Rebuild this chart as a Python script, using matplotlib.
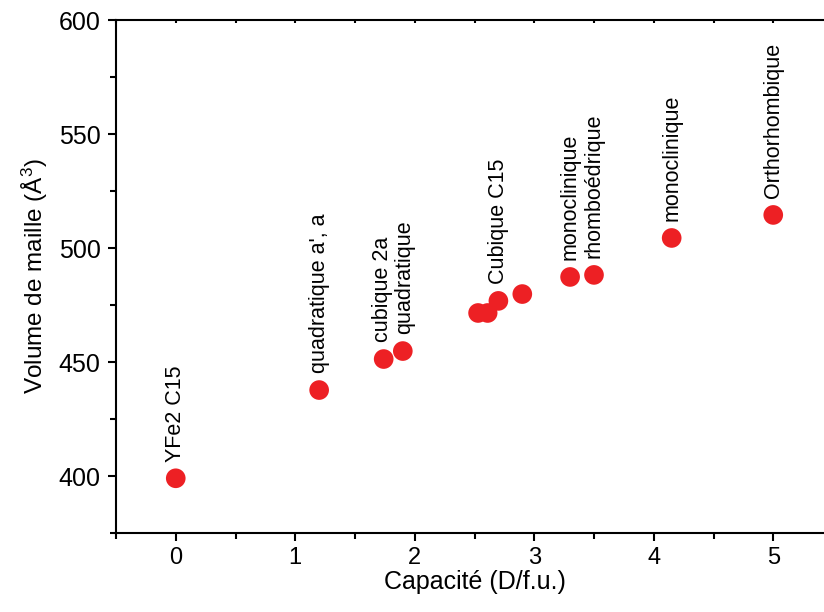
import matplotlib
matplotlib.use("Agg")
import matplotlib.pyplot as plt
from matplotlib.ticker import MultipleLocator

plt.rcParams['font.family'] = ['Liberation Sans', 'DejaVu Sans']
plt.rcParams['mathtext.fontset'] = 'custom'
plt.rcParams['mathtext.rm'] = 'Liberation Sans'
plt.rcParams['mathtext.it'] = 'Liberation Sans'

# Capacité (D/f.u.) et volume de maille (Å^3)
capacite = [0.0, 1.20, 1.74, 1.90, 2.53, 2.61, 2.70, 2.90, 3.30, 3.50, 4.15, 5.0]
volume = [399.0, 437.7, 451.3, 454.8, 471.5, 471.5, 476.8, 479.8, 487.3, 488.2, 504.4, 514.5]
etiquettes = ["YFe2 C15", "quadratique a', a", "cubique 2a", "quadratique", None, None,
              "Cubique C15", None, "monoclinique", "rhomboédrique", "monoclinique", "Orthorhombique"]

fig = plt.figure(figsize=(8.24, 6.12), dpi=100)
ax = fig.add_axes([116 / 824, 79 / 612, (833 - 116) / 824, (533 - 20) / 612])

ax.scatter(capacite, volume, s=200, color='#ED2024', edgecolors='none', zorder=3, clip_on=False)

# léger décalage horizontal pour les étiquettes serrées
decalage = {2: -1.0, 3: 1.5}
for i, (x, y, txt) in enumerate(zip(capacite, volume, etiquettes)):
    if txt:
        ax.annotate(txt, (x, y), xytext=(decalage.get(i, 0), 12), textcoords='offset points',
                    rotation=90, ha='center', va='bottom', fontsize=15.5)

ax.set_xlim(-0.5, 5.5)
ax.set_ylim(375, 600)
ax.xaxis.set_major_locator(MultipleLocator(1))
ax.xaxis.set_minor_locator(MultipleLocator(0.5))
ax.yaxis.set_major_locator(MultipleLocator(50))
ax.yaxis.set_minor_locator(MultipleLocator(25))

for s in ['left', 'bottom', 'top']:
    ax.spines[s].set_linewidth(1.5)
ax.spines['right'].set_visible(False)

ax.tick_params(which='major', direction='out', length=6, width=1.5)
ax.tick_params(which='minor', direction='out', length=4, width=1.5)
ax.tick_params(axis='x', labelsize=17, pad=4)
ax.tick_params(axis='y', labelsize=18, pad=5)
ax.tick_params(axis='x', which='both', top=True, labeltop=False)
# petites graduations vers l'intérieur sur l'axe du haut
for t in ax.xaxis.get_major_ticks() + ax.xaxis.get_minor_ticks():
    t.tick2line.set_marker(3)
    t.tick2line.set_markersize(2)

ax.set_xlabel('Capacité (D/f.u.)', fontsize=18, labelpad=1)
ax.set_ylabel('Volume de maille (Å$^{3}$)', fontsize=17.5, labelpad=6)

fig.savefig('out.png', dpi=100)
